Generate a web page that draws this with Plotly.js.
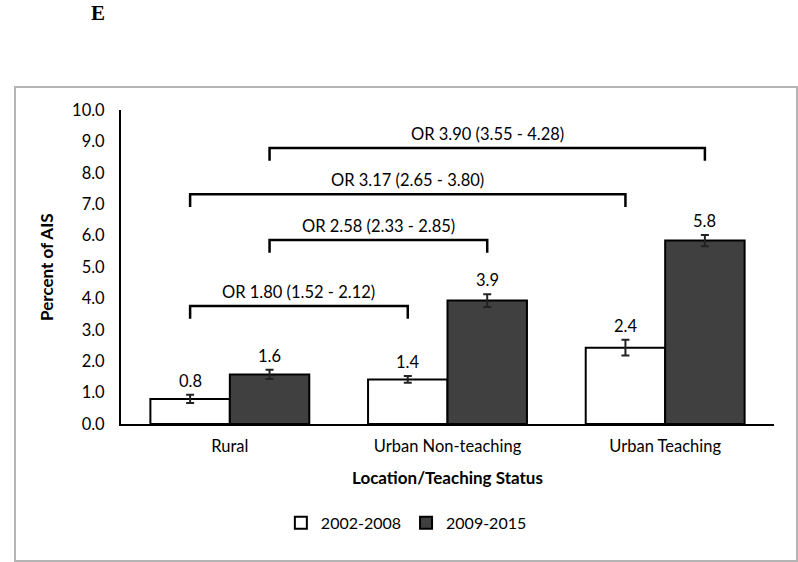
<html lang="en">
  <head>
    <meta charset="UTF-8" />
    <title>Percent of AIS</title>
    <script src="https://cdn.plot.ly/plotly-3.0.1.min.js"></script>
    <style>
      body { margin: 0; background: #fff; }
    </style>
  </head>
  <body>
    <div id="chart" style="width: 798px; height: 562px;"></div>
    <script>
      // values
      const categories = ['Rural', 'Urban Non-teaching', 'Urban Teaching'];
      const periods = ['2002-2008', '2009-2015'];
      const early = [0.8, 1.42, 2.43];
      const earlyErr = [0.13, 0.11, 0.25];
      const late = [1.58, 3.93, 5.84];
      const lateErr = [0.15, 0.2, 0.18];

      // comparison brackets: [category, series] at each end
      const orLabels = ['OR 1.80 (1.52 - 2.12)', 'OR 2.58 (2.33 - 2.85)', 'OR 3.17 (2.65 - 3.80)', 'OR 3.90 (3.55 - 4.28)'];
      const bracketFrom = [[0, 0], [0, 1], [0, 0], [0, 1]];
      const bracketTo = [[1, 0], [1, 1], [2, 0], [2, 1]];
      const bracketLevel = [3.76, 5.86, 7.32, 8.79];

      const font = 'Lato, "Open Sans", sans-serif';
      const fs = 16.5;
      const bargap = 0.27;
      const half = (1 - bargap) / 4;   // offset of each bar centre from the category centre
      const xpos = (c, s) => c + (s === 0 ? -half : half);
      const catIdx = categories.map((_, i) => i);

      const traces = [
        {
          type: 'bar', name: periods[0], x: catIdx, y: early,
          marker: { color: '#ffffff', line: { color: '#000', width: 2 } },
          error_y: { type: 'data', array: earlyErr, visible: true, color: '#222', thickness: 2, width: 4 }
        },
        {
          type: 'bar', name: periods[1], x: catIdx, y: late,
          marker: { color: '#404040', line: { color: '#000', width: 2 } },
          error_y: { type: 'data', array: lateErr, visible: true, color: '#222', thickness: 2, width: 4 }
        }
      ];

      const legH = 0.41;
      orLabels.forEach((lab, i) => {
        const x0 = xpos(bracketFrom[i][0], bracketFrom[i][1]);
        const x1 = xpos(bracketTo[i][0], bracketTo[i][1]);
        const y = bracketLevel[i];
        traces.push({
          type: 'scatter', mode: 'lines', showlegend: false, hoverinfo: 'skip',
          x: [x0, x0, x1, x1], y: [y - legH, y, y, y - legH],
          line: { color: '#000', width: 2.5 }
        });
      });

      const annotations = [];
      orLabels.forEach((lab, i) => {
        const x0 = xpos(bracketFrom[i][0], bracketFrom[i][1]);
        const x1 = xpos(bracketTo[i][0], bracketTo[i][1]);
        annotations.push({
          x: (x0 + x1) / 2, y: bracketLevel[i], xref: 'x', yref: 'y',
          text: lab, showarrow: false, yanchor: 'bottom', yshift: 2,
          font: { family: font, size: fs, color: '#000' }
        });
      });
      [early, late].forEach((vals, s) => {
        const errs = s === 0 ? earlyErr : lateErr;
        vals.forEach((v, c) => {
          annotations.push({
            x: xpos(c, s), y: v + errs[c], xref: 'x', yref: 'y',
            text: v.toFixed(1), showarrow: false, yanchor: 'bottom', yshift: 2,
            font: { family: font, size: fs, color: '#000' }
          });
        });
      });
      annotations.push(
        {
          xref: 'paper', yref: 'paper', x: -0.115, y: 0.5, xanchor: 'center', yanchor: 'middle',
          textangle: -90, text: '<b>Percent of AIS</b>', showarrow: false,
          font: { family: font, size: 17, color: '#000' }
        },
        {
          xref: 'paper', yref: 'paper', x: 0.5, y: -0.169, yanchor: 'middle',
          text: '<b>Location/Teaching Status</b>', showarrow: false,
          font: { family: font, size: 17, color: '#000' }
        },
        {
          xref: 'paper', yref: 'paper', x: -0.049, y: 1.309, xanchor: 'left', yanchor: 'middle',
          text: '<b>E</b>', showarrow: false,
          font: { family: '"Liberation Serif", serif', size: 21, color: '#000' }
        }
      );

      const layout = {
        width: 798, height: 562,
        margin: { l: 121, r: 24, t: 110, b: 138 },
        paper_bgcolor: '#fff', plot_bgcolor: '#fff',
        barmode: 'group', bargap: bargap, bargroupgap: 0,
        showlegend: true,
        legend: {
          orientation: 'h', x: 0.437, xanchor: 'center', y: -0.315, yanchor: 'middle',
          font: { family: font, size: 16, color: '#000' }, traceorder: 'normal',
          itemwidth: 30
        },
        xaxis: {
          range: [-0.5, 2.5], tickvals: catIdx, ticktext: categories,
          showgrid: false, zeroline: false, showline: true, linecolor: '#000', linewidth: 2,
          ticks: '', ticklabelstandoff: 6,
          tickfont: { family: font, size: fs, color: '#000' }
        },
        yaxis: {
          range: [0, 10], dtick: 1, tickformat: '.1f',
          showgrid: false, zeroline: false, showline: true, linecolor: '#000', linewidth: 2,
          ticks: '', ticklabelstandoff: 11,
          tickfont: { family: font, size: fs, color: '#000' }
        },
        shapes: [{
          type: 'rect', xref: 'paper', yref: 'paper',
          x0: -0.1623, x1: 1.0352, y0: -0.4363, y1: 1.0732,
          line: { color: '#b4b4b4', width: 2 }
        }],
        annotations: annotations
      };

      Plotly.newPlot('chart', traces, layout, { displayModeBar: false, staticPlot: true });
    </script>
  </body>
</html>
